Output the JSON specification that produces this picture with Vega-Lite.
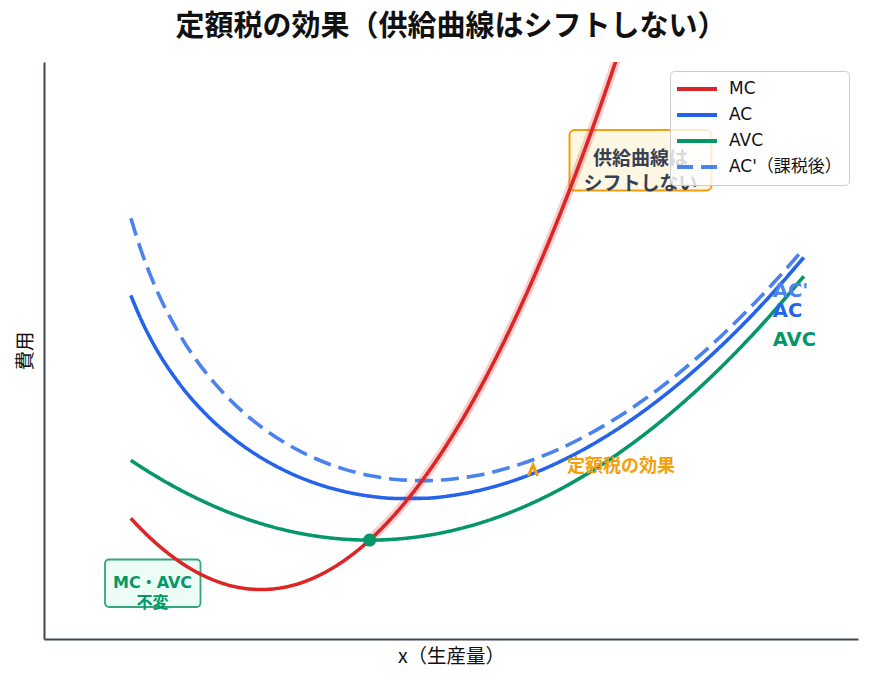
{
  "$schema": "https://vega.github.io/schema/vega-lite/v6.json",
  "width": 814,
  "height": 577,
  "autosize": {"type": "none"},
  "padding": {"left": 44, "top": 62, "right": 15, "bottom": 47},
  "background": "white",
  "title": {"text": "定額税の効果（供給曲線はシフトしない）", "fontSize": 29, "fontWeight": "bold", "color": "#111111", "offset": 20, "anchor": "middle", "dx": 0, "font": "Noto Sans CJK JP"},
  "config": {
    "view": {"stroke": null},
    "font": "Noto Sans CJK JP",
    "axis": {"labels": false, "ticks": false, "grid": false, "domainColor": "#3f4654", "domainWidth": 2},
    "axisX": {"titlePadding": 8, "titleFontSize": 19.5, "titleFontWeight": "normal", "titleColor": "#111111", "titleFont": "Noto Sans CJK JP"},
    "axisY": {"titlePadding": 9, "titleFontSize": 19.5, "titleFontWeight": "normal", "titleColor": "#111111", "titleFont": "Noto Sans CJK JP"},
    "legend": {"orient": "top-right", "offset": 9, "fillColor": "rgba(255,255,255,0.8)", "strokeColor": "#cccccc", "cornerRadius": 4, "padding": 7, "labelFontSize": 17, "labelFont": "DejaVu Sans, Noto Sans CJK JP", "labelColor": "#111111", "symbolType": "stroke", "symbolStrokeWidth": 4, "symbolSize": 1764, "symbolOffset": -4, "clipHeight": 22, "rowPadding": 4, "labelOffset": 10}
  },
  "datasets": {
    "curves": [
      {"series": "AC'（課税後）", "x": 1.6, "y": 102.11}, {"series": "AC'（課税後）", "x": 1.8, "y": 93.86}, {"series": "AC'（課税後）", "x": 2, "y": 87}, {"series": "AC'（課税後）", "x": 2.5, "y": 73.85}, {"series": "AC'（課税後）", "x": 3, "y": 64.33}, {"series": "AC'（課税後）", "x": 3.5, "y": 57.11}, {"series": "AC'（課税後）", "x": 4, "y": 51.5}, {"series": "AC'（課税後）", "x": 4.5, "y": 47.14}, {"series": "AC'（課税後）", "x": 5, "y": 43.8}, {"series": "AC'（課税後）", "x": 5.5, "y": 41.34}, {"series": "AC'（課税後）", "x": 6, "y": 39.67}, {"series": "AC'（課税後）", "x": 6.5, "y": 38.71}, {"series": "AC'（課税後）", "x": 7, "y": 38.43}, {"series": "AC'（課税後）", "x": 7.5, "y": 38.78}, {"series": "AC'（課税後）", "x": 8, "y": 39.75}, {"series": "AC'（課税後）", "x": 8.5, "y": 41.31}, {"series": "AC'（課税後）", "x": 9, "y": 43.44}, {"series": "AC'（課税後）", "x": 9.5, "y": 46.14}, {"series": "AC'（課税後）", "x": 10, "y": 49.4}, {"series": "AC'（課税後）", "x": 10.5, "y": 53.2}, {"series": "AC'（課税後）", "x": 11, "y": 57.55}, {"series": "AC'（課税後）", "x": 11.5, "y": 62.42}, {"series": "AC'（課税後）", "x": 12, "y": 67.83}, {"series": "AC'（課税後）", "x": 12.5, "y": 73.77}, {"series": "AC'（課税後）", "x": 13, "y": 80.23}, {"series": "AC'（課税後）", "x": 13.5, "y": 87.21}, {"series": "AC'（課税後）", "x": 14, "y": 94.71},
      {"series": "AC", "x": 1.6, "y": 83.36}, {"series": "AC", "x": 1.8, "y": 77.2}, {"series": "AC", "x": 2, "y": 72}, {"series": "AC", "x": 2.5, "y": 61.85}, {"series": "AC", "x": 3, "y": 54.33}, {"series": "AC", "x": 3.5, "y": 48.54}, {"series": "AC", "x": 4, "y": 44}, {"series": "AC", "x": 4.5, "y": 40.47}, {"series": "AC", "x": 5, "y": 37.8}, {"series": "AC", "x": 5.5, "y": 35.89}, {"series": "AC", "x": 6, "y": 34.67}, {"series": "AC", "x": 6.5, "y": 34.1}, {"series": "AC", "x": 7, "y": 34.14}, {"series": "AC", "x": 7.5, "y": 34.78}, {"series": "AC", "x": 8, "y": 36}, {"series": "AC", "x": 8.5, "y": 37.78}, {"series": "AC", "x": 9, "y": 40.11}, {"series": "AC", "x": 9.5, "y": 42.99}, {"series": "AC", "x": 10, "y": 46.4}, {"series": "AC", "x": 10.5, "y": 50.35}, {"series": "AC", "x": 11, "y": 54.82}, {"series": "AC", "x": 11.5, "y": 59.82}, {"series": "AC", "x": 12, "y": 65.33}, {"series": "AC", "x": 12.5, "y": 71.37}, {"series": "AC", "x": 13, "y": 77.92}, {"series": "AC", "x": 13.5, "y": 84.99}, {"series": "AC", "x": 14, "y": 92.57},
      {"series": "AVC", "x": 1.6, "y": 43.36}, {"series": "AVC", "x": 1.8, "y": 41.64}, {"series": "AVC", "x": 2, "y": 40}, {"series": "AVC", "x": 2.5, "y": 36.25}, {"series": "AVC", "x": 3, "y": 33}, {"series": "AVC", "x": 3.5, "y": 30.25}, {"series": "AVC", "x": 4, "y": 28}, {"series": "AVC", "x": 4.5, "y": 26.25}, {"series": "AVC", "x": 5, "y": 25}, {"series": "AVC", "x": 5.5, "y": 24.25}, {"series": "AVC", "x": 6, "y": 24}, {"series": "AVC", "x": 6.5, "y": 24.25}, {"series": "AVC", "x": 7, "y": 25}, {"series": "AVC", "x": 7.5, "y": 26.25}, {"series": "AVC", "x": 8, "y": 28}, {"series": "AVC", "x": 8.5, "y": 30.25}, {"series": "AVC", "x": 9, "y": 33}, {"series": "AVC", "x": 9.5, "y": 36.25}, {"series": "AVC", "x": 10, "y": 40}, {"series": "AVC", "x": 10.5, "y": 44.25}, {"series": "AVC", "x": 11, "y": 49}, {"series": "AVC", "x": 11.5, "y": 54.25}, {"series": "AVC", "x": 12, "y": 60}, {"series": "AVC", "x": 12.5, "y": 66.25}, {"series": "AVC", "x": 13, "y": 73}, {"series": "AVC", "x": 13.5, "y": 80.25}, {"series": "AVC", "x": 14, "y": 88},
      {"series": "MC", "x": 1.6, "y": 29.28}, {"series": "MC", "x": 1.8, "y": 26.52}, {"series": "MC", "x": 2, "y": 24}, {"series": "MC", "x": 2.5, "y": 18.75}, {"series": "MC", "x": 3, "y": 15}, {"series": "MC", "x": 3.5, "y": 12.75}, {"series": "MC", "x": 4, "y": 12}, {"series": "MC", "x": 4.5, "y": 12.75}, {"series": "MC", "x": 5, "y": 15}, {"series": "MC", "x": 5.5, "y": 18.75}, {"series": "MC", "x": 6, "y": 24}, {"series": "MC", "x": 6.5, "y": 30.75}, {"series": "MC", "x": 7, "y": 39}, {"series": "MC", "x": 7.5, "y": 48.75}, {"series": "MC", "x": 8, "y": 60}, {"series": "MC", "x": 8.5, "y": 72.75}, {"series": "MC", "x": 9, "y": 87}, {"series": "MC", "x": 9.5, "y": 102.75}, {"series": "MC", "x": 10, "y": 120}, {"series": "MC", "x": 10.5, "y": 138.75}, {"series": "MC", "x": 11, "y": 159}
    ]
  },
  "layer": [
    {
      "data": {"values": [{"x": 9.684, "x2": 12.3, "y": 123.5, "y2": 108.82}]},
      "mark": {"type": "rect", "fill": "#fdf7e3", "stroke": "#f59e0b", "strokeWidth": 2, "cornerRadius": 5},
      "encoding": {
        "x": {"field": "x", "type": "quantitative", "title": "x（生産量）", "scale": {"domain": [0, 15], "nice": false, "zero": false}},
        "x2": {"field": "x2"},
        "y": {"field": "y", "type": "quantitative", "title": "費用", "scale": {"domain": [0, 140], "nice": false, "zero": false}},
        "y2": {"field": "y2"}
      }
    },
    {
      "data": {"values": [{"x": 1.124, "x2": 2.884, "y": 19.29, "y2": 7.76}]},
      "mark": {"type": "rect", "fill": "#ecfdf5", "stroke": "#34a57c", "strokeWidth": 1.8, "cornerRadius": 4},
      "encoding": {
        "x": {"field": "x", "type": "quantitative", "title": "x（生産量）"},
        "x2": {"field": "x2"},
        "y": {"field": "y", "type": "quantitative", "title": "費用"},
        "y2": {"field": "y2"}
      }
    },
    {
      "data": {"name": "curves"},
      "transform": [{"filter": "datum.series == 'MC' && datum.x >= 6"}],
      "mark": {"type": "line", "stroke": "#dc2626", "strokeWidth": 9, "opacity": 0.22, "clip": true, "interpolate": "monotone"},
      "encoding": {
        "x": {"field": "x", "type": "quantitative", "title": "x（生産量）"},
        "y": {"field": "y", "type": "quantitative", "title": "費用"}
      }
    },
    {
      "data": {"name": "curves"},
      "mark": {"type": "line", "strokeWidth": 3.6, "clip": true, "interpolate": "monotone", "strokeCap": "butt"},
      "encoding": {
        "x": {"field": "x", "type": "quantitative", "title": "x（生産量）"},
        "y": {"field": "y", "type": "quantitative", "title": "費用"},
        "color": {"field": "series", "type": "nominal", "scale": {"domain": ["MC", "AC", "AVC", "AC'（課税後）"], "range": ["#dc2626", "#2563eb", "#059669", "#4a82f0"]}, "legend": {"title": null}},
        "strokeDash": {"field": "series", "type": "nominal", "scale": {"domain": ["MC", "AC", "AVC", "AC'（課税後）"], "range": [[1, 0], [1, 0], [1, 0], [18, 8]]}, "legend": {"title": null}}
      }
    },
    {
      "data": {"values": [{"x": 6, "y": 24}]},
      "mark": {"type": "point", "filled": true, "fill": "#059669", "opacity": 1, "size": 170},
      "encoding": {
        "x": {"field": "x", "type": "quantitative", "title": "x（生産量）"},
        "y": {"field": "y", "type": "quantitative", "title": "費用"}
      }
    },
    {
      "data": {"values": [{"x": 10.99, "y": 116.4, "label": "供給曲線は\nシフトしない"}]},
      "mark": {"type": "text", "lineBreak": "\n", "fontSize": 19, "fontWeight": "bold", "color": "#374151", "align": "center", "baseline": "middle", "lineHeight": 25},
      "encoding": {
        "x": {"field": "x", "type": "quantitative", "title": "x（生産量）"},
        "y": {"field": "y", "type": "quantitative", "title": "費用"},
        "text": {"field": "label"}
      }
    },
    {
      "data": {"values": [{"x": 2.0, "y": 13.6, "label": "MC・AVC\n不変"}]},
      "mark": {"type": "text", "lineBreak": "\n", "fontSize": 16, "fontWeight": "bold", "font": "DejaVu Sans, Noto Sans CJK JP", "color": "#059669", "align": "center", "baseline": "middle", "lineHeight": 20},
      "encoding": {
        "x": {"field": "x", "type": "quantitative", "title": "x（生産量）"},
        "y": {"field": "y", "type": "quantitative", "title": "費用"},
        "text": {"field": "label"}
      }
    },
    {
      "data": {"values": [{"x": 13.43, "y": 84.44, "label": "AC'"}]},
      "mark": {"type": "text", "fontSize": 19.5, "fontWeight": "bold", "font": "DejaVu Sans", "color": "#4a82f0", "align": "left", "baseline": "middle"},
      "encoding": {
        "x": {"field": "x", "type": "quantitative", "title": "x（生産量）"},
        "y": {"field": "y", "type": "quantitative", "title": "費用"},
        "text": {"field": "label"}
      }
    },
    {
      "data": {"values": [{"x": 13.43, "y": 79.58, "label": "AC"}]},
      "mark": {"type": "text", "fontSize": 19.5, "fontWeight": "bold", "font": "DejaVu Sans", "color": "#2563eb", "align": "left", "baseline": "middle"},
      "encoding": {
        "x": {"field": "x", "type": "quantitative", "title": "x（生産量）"},
        "y": {"field": "y", "type": "quantitative", "title": "費用"},
        "text": {"field": "label"}
      }
    },
    {
      "data": {"values": [{"x": 13.43, "y": 72.55, "label": "AVC"}]},
      "mark": {"type": "text", "fontSize": 19.5, "fontWeight": "bold", "font": "DejaVu Sans", "color": "#059669", "align": "left", "baseline": "middle"},
      "encoding": {
        "x": {"field": "x", "type": "quantitative", "title": "x（生産量）"},
        "y": {"field": "y", "type": "quantitative", "title": "費用"},
        "text": {"field": "label"}
      }
    },
    {
      "data": {"values": [{"x": 9.637, "y": 41.73, "label": "定額税の効果"}]},
      "mark": {"type": "text", "fontSize": 18, "fontWeight": "bold", "color": "#f59e0b", "align": "left", "baseline": "middle"},
      "encoding": {
        "x": {"field": "x", "type": "quantitative", "title": "x（生産量）"},
        "y": {"field": "y", "type": "quantitative", "title": "費用"},
        "text": {"field": "label"}
      }
    },
    {
      "data": {"values": [{"x": 9.011, "y": 40.9}]},
      "mark": {"type": "point", "shape": "M-0.7,0.8L0,-0.8L0.7,0.8", "filled": false, "stroke": "#f59e0b", "strokeWidth": 3, "size": 180, "opacity": 1, "strokeJoin": "miter"},
      "encoding": {
        "x": {"field": "x", "type": "quantitative", "title": "x（生産量）"},
        "y": {"field": "y", "type": "quantitative", "title": "費用"}
      }
    }
  ]
}
